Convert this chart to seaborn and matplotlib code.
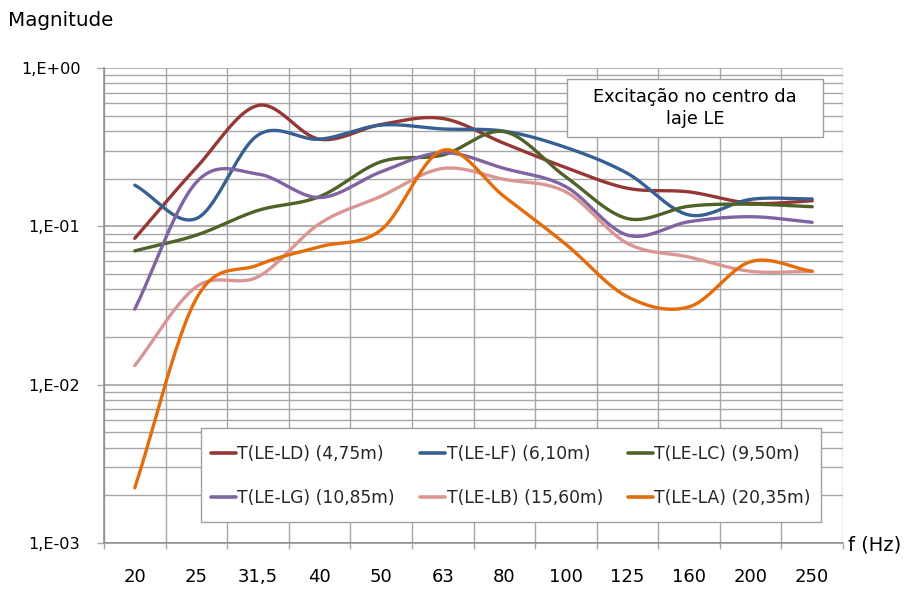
import numpy as np
import pandas as pd
import matplotlib
matplotlib.use("Agg")
import matplotlib.pyplot as plt
import seaborn as sns
from matplotlib.patches import Rectangle
from matplotlib.lines import Line2D
from matplotlib.ticker import FixedLocator, FixedFormatter, NullFormatter

# ---- data ----
freqs = ["20", "25", "31,5", "40", "50", "63", "80", "100", "125", "160", "200", "250"]
ld = [0.084, 0.235, 0.58, 0.355, 0.44, 0.48, 0.334, 0.235, 0.174, 0.165, 0.140, 0.145]
lf = [0.182, 0.112, 0.377, 0.355, 0.436, 0.412, 0.399, 0.315, 0.216, 0.118, 0.148, 0.149]
lc = [0.070, 0.088, 0.126, 0.154, 0.256, 0.282, 0.396, 0.205, 0.112, 0.134, 0.138, 0.133]
lg = [0.030, 0.190, 0.214, 0.152, 0.221, 0.292, 0.232, 0.178, 0.088, 0.107, 0.115, 0.106]
lb = [0.0132, 0.0415, 0.048, 0.104, 0.155, 0.232, 0.198, 0.165, 0.078, 0.064, 0.052, 0.052]
la = [0.00223, 0.035, 0.057, 0.0743, 0.095, 0.302, 0.154, 0.077, 0.0359, 0.031, 0.0598, 0.052]

names = ["T(LE-LD) (4,75m)", "T(LE-LF) (6,10m)", "T(LE-LC) (9,50m)",
         "T(LE-LG) (10,85m)", "T(LE-LB) (15,60m)", "T(LE-LA) (20,35m)"]
series = [ld, lf, lc, lg, lb, la]
colors = ["#953735", "#376092", "#4F6228", "#8064A2", "#D99694", "#E46C0A"]

sns.set_theme(style="white")
plt.rcParams["font.family"] = ["DejaVu Sans"]


def smooth(vals, n=24):
    """Excel-like smoothed line: cubic Bezier through points (in index / log space)."""
    P = np.column_stack([np.arange(len(vals), dtype=float), np.log10(vals)])
    ext = np.vstack([2 * P[0] - P[1], P, 2 * P[-1] - P[-2]])
    out = []
    t = np.linspace(0, 1, n, endpoint=False)[:, None]
    for i in range(len(P) - 1):
        p0, p1, p2, p3 = ext[i], ext[i + 1], ext[i + 2], ext[i + 3]
        c1 = p1 + (p2 - p0) / 6.0
        c2 = p2 - (p3 - p1) / 6.0
        b = (1 - t) ** 3 * p1 + 3 * (1 - t) ** 2 * t * c1 + 3 * (1 - t) * t ** 2 * c2 + t ** 3 * p2
        out.append(b)
    out.append(P[-1][None, :])
    out = np.vstack(out)
    return out[:, 0], 10 ** out[:, 1]


frames = []
for name, vals in zip(names, series):
    xs, ys = smooth(vals)
    frames.append(pd.DataFrame({"x": xs, "y": ys, "series": name, "order": np.arange(len(xs))}))
df = pd.concat(frames, ignore_index=True)

W, H = 907, 590
fig = plt.figure(figsize=(W / 100, H / 100), dpi=100)
L, R, T, B = 104, 843, 68, 543
ax = fig.add_axes([L / W, 1 - B / H, (R - L) / W, (B - T) / H])

sns.lineplot(data=df, x="x", y="y", hue="series", hue_order=names, palette=colors,
             sort=False, estimator=None, lw=2.4, legend=False, ax=ax, zorder=3)

ax.set_yscale("log")
ax.set_ylim(1e-3, 1)
ax.set_xlim(-0.5, len(freqs) - 0.5)

grid_c = "#a6a6a6"
ax.xaxis.set_major_locator(FixedLocator(np.arange(-0.5, len(freqs), 1.0)))
ax.xaxis.set_major_formatter(NullFormatter())
ax.xaxis.set_minor_locator(FixedLocator(np.arange(len(freqs))))
ax.xaxis.set_minor_formatter(FixedFormatter(freqs))
ax.tick_params(axis="x", which="major", length=4.3, width=1, color=grid_c, direction="out", bottom=True)
ax.tick_params(axis="x", which="minor", length=0, pad=18, labelsize=13, labelcolor="black")

ax.yaxis.set_major_locator(FixedLocator([1e-3, 1e-2, 1e-1, 1e0]))
ax.yaxis.set_major_formatter(FixedFormatter(["1,E-03", "1,E-02", "1,E-01", "1,E+00"]))
minor_y = [m * 10.0 ** e for e in range(-3, 0) for m in range(2, 10)]
ax.yaxis.set_minor_locator(FixedLocator(minor_y))
ax.yaxis.set_minor_formatter(NullFormatter())
ax.tick_params(axis="y", which="major", length=5, width=1, color=grid_c, direction="out",
               left=True, pad=12, labelsize=11.6, labelcolor="black")
ax.tick_params(axis="y", which="minor", length=0)

ax.xaxis.grid(True, which="major", color=grid_c, lw=1, zorder=0)
ax.xaxis.grid(False, which="minor")
ax.yaxis.grid(True, which="major", color="#9a9a9a", lw=1.1, zorder=0)
ax.yaxis.grid(True, which="minor", color=grid_c, lw=1, zorder=0)
ax.set_axisbelow(True)

for s in ["top", "right"]:
    ax.spines[s].set_visible(False)
for s in ["left", "bottom"]:
    ax.spines[s].set_color("#8c8c8c")
    ax.spines[s].set_linewidth(1.1)

ax.set_xlabel("")
ax.set_ylabel("")


def ax_x(px):
    return (px - L) / (R - L)


def ax_y(py):
    return (B - py) / (B - T)


# legend frame drawn separately
ax.add_patch(Rectangle((ax_x(201), ax_y(522)), ax_x(821) - ax_x(201), ax_y(428) - ax_y(522),
                       transform=ax.transAxes, facecolor="white", edgecolor="#a0a0a0",
                       lw=1, zorder=4.5))

# legend entries (filled row-wise like the reference)
handles = [Line2D([0], [0], color=c, lw=2.6) for c in colors]
ncol, nrow = 3, 2
order = [r * ncol + c for c in range(ncol) for r in range(nrow)]
leg = ax.legend([handles[i] for i in order], [names[i] for i in order], ncol=ncol,
                loc="lower left", mode="expand", borderaxespad=0, borderpad=0,
                bbox_to_anchor=(ax_x(211), ax_y(507), ax_x(811) - ax_x(211), 0.001),
                fontsize=12.3, frameon=False, handlelength=1.45,
                handletextpad=0.1, labelspacing=1.5, columnspacing=0.5)
leg.set_zorder(5)

# annotation box
bx0, by0 = ax_x(566.7), ax_y(137.3)
bw, bh = ax_x(823.3) - bx0, ax_y(79) - by0
ax.add_patch(Rectangle((bx0, by0), bw, bh, transform=ax.transAxes, facecolor="white",
                       edgecolor="#a0a0a0", lw=1, zorder=6))
ax.text(bx0 + bw / 2, by0 + bh / 2, "Excitação no centro da\nlaje LE", transform=ax.transAxes,
        ha="center", va="center", fontsize=12.8, zorder=7, linespacing=1.3, color="black")

fig.text(8 / W, 1 - 21 / H, "Magnitude", ha="left", va="center", fontsize=14.3, color="black")
fig.text(848 / W, 1 - 545 / H, "f (Hz)", ha="left", va="center", fontsize=14, color="black")

fig.savefig("out.png", dpi=100)
